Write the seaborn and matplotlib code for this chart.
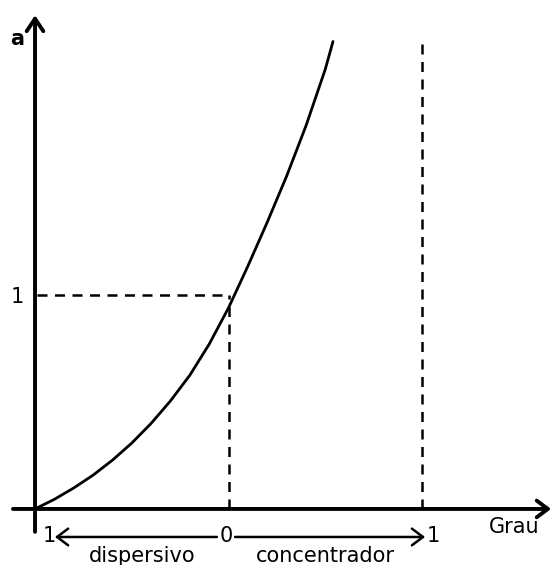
import matplotlib
matplotlib.use("Agg")
import matplotlib.pyplot as plt
import seaborn as sns
import pandas as pd

# Curve values (grau position, a)
curve_x = [0.0, 0.1, 0.2, 0.3, 0.4, 0.5, 0.6, 0.7, 0.8, 0.9, 1.0, 1.1,
           1.2, 1.3, 1.4, 1.5, 1.54]
curve_y = [0.0, 0.045, 0.098, 0.158, 0.228, 0.308, 0.40, 0.505, 0.625, 0.77, 0.94, 1.135,
           1.34, 1.555, 1.79, 2.055, 2.185]

tick_labels_x = ["1", "0", "1"]
tick_pos_x = [0.072, 0.987, 2.057]
y_label_one = "1"
axis_label_y = "a"
axis_label_x = "Grau"
region_labels = ["dispersivo", "concentrador"]

sns.set_theme(style="white")
plt.rcParams['font.family'] = ['DejaVu Sans']

fig = plt.figure(figsize=(5.53, 5.65), dpi=100)
ax = fig.add_axes([0, 0, 1, 1])
ax.set_xlim(-0.181, 2.677)
ax.set_ylim(-0.262, 2.379)
ax.axis("off")

df = pd.DataFrame({"x": curve_x, "y": curve_y})
sns.lineplot(data=df, x="x", y="y", ax=ax, color="black", lw=2.0, sort=False)

# Dashed guides
dash = (0, (4, 3))
ax.plot([0.01, 1.0], [1.0, 1.0], color="black", lw=1.8, ls=dash)
ax.plot([1.0, 1.0], [0.0, 1.0], color="black", lw=1.8, ls=dash)
ax.plot([2.0, 2.0], [0.0, 2.178], color="black", lw=1.8, ls=dash)

# Axes with arrows
ax.annotate("", xy=(0, 2.308), xytext=(0, -0.107),
            arrowprops=dict(arrowstyle="->,head_length=0.45,head_width=0.3",
                            lw=2.8, color="black", mutation_scale=20,
                            shrinkA=0, shrinkB=0))
ax.annotate("", xy=(2.667, 0), xytext=(-0.114, 0),
            arrowprops=dict(arrowstyle="->,head_length=0.4,head_width=0.3",
                            lw=2.8, color="black", mutation_scale=20,
                            shrinkA=0, shrinkB=0))

# Bottom direction arrows
ax.annotate("", xy=(0.103, -0.131), xytext=(0.94, -0.131),
            arrowprops=dict(arrowstyle="->,head_length=0.4,head_width=0.3",
                            lw=1.8, color="black", mutation_scale=20,
                            shrinkA=0, shrinkB=0))
ax.annotate("", xy=(2.016, -0.131), xytext=(1.034, -0.131),
            arrowprops=dict(arrowstyle="->,head_length=0.4,head_width=0.3",
                            lw=1.8, color="black", mutation_scale=20,
                            shrinkA=0, shrinkB=0))

fs = 15
for lab, xp in zip(tick_labels_x, tick_pos_x):
    ax.text(xp, -0.126, lab, ha="center", va="center", fontsize=fs, color="black")
ax.text(-0.093, 0.991, y_label_one, ha="center", va="center", fontsize=fs, color="black")
ax.text(-0.093, 2.196, axis_label_y, ha="center", va="center", fontsize=fs, color="black",
        fontweight="bold")
ax.text(2.475, -0.084, axis_label_x, ha="center", va="center", fontsize=fs, color="black")
ax.text(0.553, -0.220, region_labels[0], ha="center", va="center", fontsize=fs, color="black")
ax.text(1.499, -0.220, region_labels[1], ha="center", va="center", fontsize=fs, color="black")

fig.savefig("out.png", dpi=100, facecolor="white")
